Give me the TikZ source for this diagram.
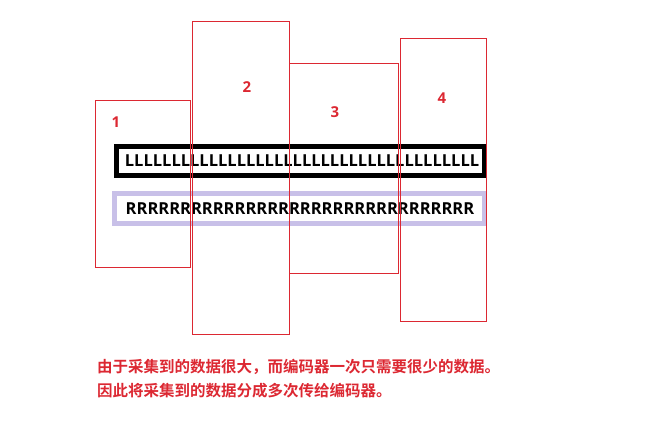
\documentclass[tikz,border=0pt]{standalone}
\usepackage{fontspec}
\setmainfont{Open Sans}[BoldFont={Open Sans Bold}]
\newfontfamily\cjk{Noto Sans CJK SC}[BoldFont={Noto Sans CJK SC Bold}]
\definecolor{boxred}{RGB}{220,40,50}
\definecolor{lav}{RGB}{200,192,232}
\begin{document}
\begin{tikzpicture}[x=1pt,y=-1pt,
  redbox/.style={draw=boxred,line width=1pt,anchor=north west,inner sep=0pt,outer sep=0pt},
  numlbl/.style={text=boxred,font=\fontsize{15}{15}\selectfont\bfseries,inner sep=0pt},
  barL/.style={draw=black,line width=5pt,fill=white,anchor=north west,inner sep=0pt,outer sep=0pt},
  barR/.style={draw=lav,line width=5pt,fill=white,anchor=north west,inner sep=0pt,outer sep=0pt},
  bartext/.style={font=\fontsize{16.5}{16.5}\selectfont\bfseries,inner sep=0pt},
  note/.style={text=boxred,font=\cjk\fontsize{15.5}{15.5}\selectfont\bfseries,anchor=west,inner sep=0pt}]
\useasboundingbox (0,0) rectangle (650,431);
% bars
\node[barL,minimum width=368,minimum height=29] (barl) at (116.5,146.5) {};
\node[bartext] (tl) at (302,161) {LLLLLLLLLLLLLLLLLLLLLLLLLLLLLLLLLLLLLL};
\node[barR,minimum width=370,minimum height=30] (barr) at (114.5,193.5) {};
\node[bartext] (tr) at (300,209) {RRRRRRRRRRRRRRRRRRRRRRRRRRRRRRRR};
% red boxes
\node[redbox,minimum width=95,minimum height=167] (b1) at (95,100) {};
\node[redbox,minimum width=97,minimum height=313] (b2) at (192,21) {};
\node[redbox,minimum width=109,minimum height=210] (b3) at (289,63) {};
\node[redbox,minimum width=86,minimum height=283] (b4) at (400,38) {};
\node[numlbl] (n1) at (116,122) {1};
\node[numlbl] (n2) at (247,87) {2};
\node[numlbl] (n3) at (335,112) {3};
\node[numlbl] (n4) at (442,98) {4};
% notes
\node[note] (t1) at (97,367) {由于采集到的数据很大，而编码器一次只需要很少的数据。};
\node[note] (t2) at (97,391) {因此将采集到的数据分成多次传给编码器。};
\end{tikzpicture}
\end{document}
